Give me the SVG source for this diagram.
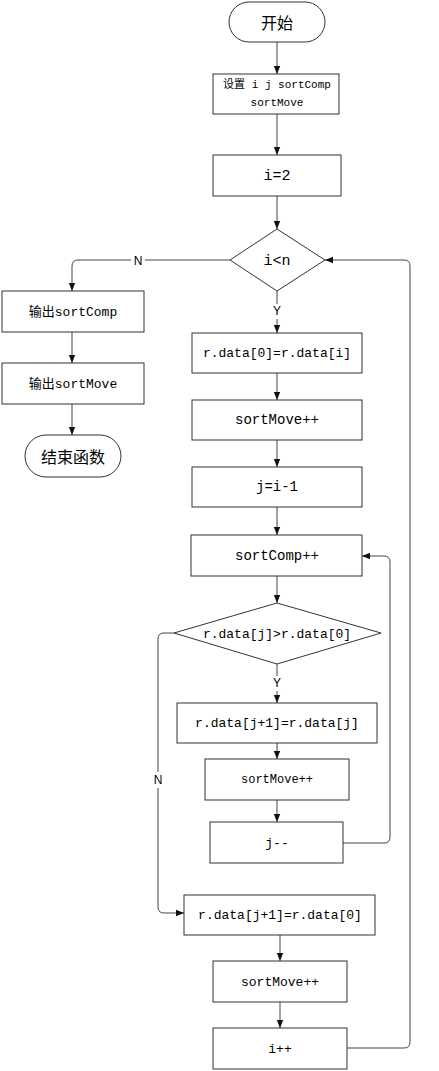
<svg xmlns="http://www.w3.org/2000/svg" width="439" height="1071" viewBox="0 0 439 1071">
<style>
.n{fill:#fff;stroke:#333;stroke-width:1}
.t{font-family:"Liberation Mono","Noto Sans CJK SC",monospace;font-size:13px;fill:#000;text-anchor:middle;dominant-baseline:central}
.c{font-family:"Noto Sans CJK SC",sans-serif;font-size:16px}
.l{font-family:"Liberation Sans",sans-serif;font-size:12px;fill:#000;text-anchor:middle;dominant-baseline:central}
.e{fill:none;stroke:#444;stroke-width:1}
</style>
<defs>
<marker id="a" viewBox="0 0 8 8" refX="8" refY="4" markerWidth="8" markerHeight="8" markerUnits="userSpaceOnUse" orient="auto">
<path d="M0,0.8 L8,4 L0,7.2 Z" fill="#111"/>
</marker>
</defs>
<g id="connectors">
<path class="e" d="M277,42V74" marker-end="url(#a)"/>
<path class="e" d="M277,114V155" marker-end="url(#a)"/>
<path class="e" d="M277,196V229" marker-end="url(#a)"/>
<path class="e" d="M230,260H78Q72,260 72,266V291" marker-end="url(#a)"/>
<path class="e" d="M72,332V363" marker-end="url(#a)"/>
<path class="e" d="M72,404V435" marker-end="url(#a)"/>
<path class="e" d="M277,291V333" marker-end="url(#a)"/>
<path class="e" d="M277,373V400" marker-end="url(#a)"/>
<path class="e" d="M277,440V467" marker-end="url(#a)"/>
<path class="e" d="M277,507V535" marker-end="url(#a)"/>
<path class="e" d="M277,576V603" marker-end="url(#a)"/>
<path class="e" d="M277,664V703" marker-end="url(#a)"/>
<path class="e" d="M277,743V759" marker-end="url(#a)"/>
<path class="e" d="M277,800V822" marker-end="url(#a)"/>
<path class="e" d="M343,843H384Q390,843 390,837V562Q390,556 384,556H362" marker-end="url(#a)"/>
<path class="e" d="M174,633H164Q158,633 158,639V907Q158,913 164,913H184" marker-end="url(#a)"/>
<path class="e" d="M280,935V961" marker-end="url(#a)"/>
<path class="e" d="M280,1002V1028" marker-end="url(#a)"/>
<path class="e" d="M347,1048H404Q410,1048 410,1042V266Q410,260 404,260H325" marker-end="url(#a)"/>
<rect x="131" y="253" width="14" height="15" fill="#fff"/>
<text class="l" x="138" y="261">N</text>
<rect x="271" y="304" width="12" height="15" fill="#fff"/>
<text class="l" x="277" y="311">Y</text>
<rect x="271" y="676" width="12" height="15" fill="#fff"/>
<text class="l" x="277" y="683">Y</text>
<rect x="152" y="772" width="13" height="16" fill="#fff"/>
<text class="l" x="158" y="780">N</text>
</g>
<g id="start"><rect class="n" x="229" y="2" width="96" height="40" rx="20"/><text class="t c" x="277" y="22">开始</text></g>
<g id="init"><rect class="n" x="213" y="74" width="126" height="40"/><text class="t" x="277" y="85" style="font-size:11px">设置 i j sortComp</text><text class="t" x="277" y="103" style="font-size:11px">sortMove</text></g>
<g id="i2"><rect class="n" x="213" y="155" width="128" height="41"/><text class="t" x="277" y="176" style="font-size:15px">i=2</text></g>
<g id="cond1"><polygon class="n" points="277,229 325,260 277,291 230,260"/><text class="t" x="277" y="261" style="font-size:15px">i&lt;n</text></g>
<g id="outComp"><rect class="n" x="2" y="291" width="142" height="41"/><text class="t" x="73" y="312">输出sortComp</text></g>
<g id="outMove"><rect class="n" x="2" y="363" width="142" height="41"/><text class="t" x="73" y="384">输出sortMove</text></g>
<g id="end"><rect class="n" x="25" y="435" width="96" height="42" rx="21"/><text class="t c" x="73" y="456">结束函数</text></g>
<g id="set0"><rect class="n" x="192" y="333" width="170" height="40"/><text class="t" x="277" y="353">r.data[0]=r.data[i]</text></g>
<g id="move1"><rect class="n" x="192" y="400" width="170" height="40"/><text class="t" x="277" y="420" style="font-size:14px">sortMove++</text></g>
<g id="jset"><rect class="n" x="192" y="467" width="170" height="40"/><text class="t" x="277" y="487" style="font-size:14px">j=i-1</text></g>
<g id="comp"><rect class="n" x="191" y="535" width="171" height="41"/><text class="t" x="277" y="556" style="font-size:14px">sortComp++</text></g>
<g id="cond2"><polygon class="n" points="277,603 381,633 277,664 174,633"/><text class="t" x="277" y="634">r.data[j]&gt;r.data[0]</text></g>
<g id="shift"><rect class="n" x="177" y="703" width="200" height="40"/><text class="t" x="277" y="723">r.data[j+1]=r.data[j]</text></g>
<g id="move2"><rect class="n" x="205" y="759" width="144" height="41"/><text class="t" x="277" y="780" style="font-size:12px">sortMove++</text></g>
<g id="jdec"><rect class="n" x="210" y="822" width="133" height="41"/><text class="t" x="277" y="843">j--</text></g>
<g id="place"><rect class="n" x="184" y="895" width="191" height="40"/><text class="t" x="280" y="915">r.data[j+1]=r.data[0]</text></g>
<g id="move3"><rect class="n" x="213" y="961" width="134" height="41"/><text class="t" x="280" y="982">sortMove++</text></g>
<g id="iinc"><rect class="n" x="213" y="1028" width="134" height="41"/><text class="t" x="280" y="1049">i++</text></g>
</svg>
